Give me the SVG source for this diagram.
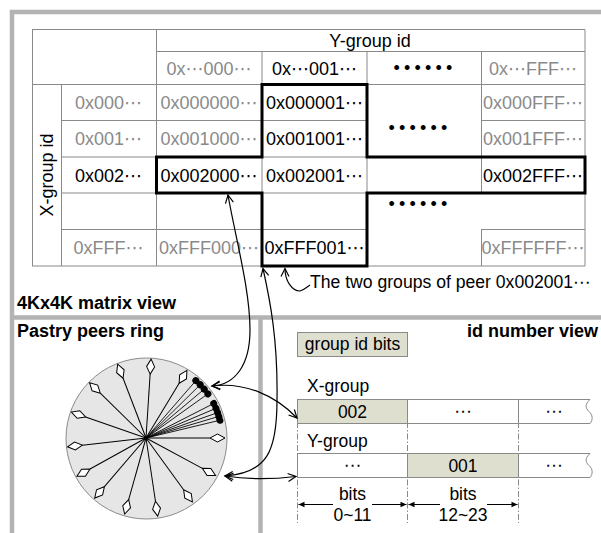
<svg xmlns="http://www.w3.org/2000/svg" xmlns:xlink="http://www.w3.org/1999/xlink" width="601" height="533" viewBox="0 0 601 533">
  <style>
    .t { font-family: "Liberation Sans", Arial, sans-serif; font-size: 18px; fill: #000; }
    .e { font-family: "DejaVu Sans", sans-serif; }
    .m { text-anchor: middle; }
    .gr { fill: #8a8a8a; }
    .bold { font-weight: bold; font-size: 18px; }
    .lg { font-size: 17.5px; }
    .dots { letter-spacing: 4.2px; }
    .grid { stroke: #8a8a8a; stroke-width: 1; fill: none; }
    .hl { stroke: #000; stroke-width: 3; fill: none; stroke-linejoin: miter; }
    .frame { stroke: #b3b3b3; stroke-width: 4.5; fill: none; }
    .conn { stroke: #000; stroke-width: 1.2; fill: none; }
    .dim { stroke: #000; stroke-width: 1; fill: none; }
    .dd { stroke: #8a8a8a; stroke-width: 1; stroke-dasharray: 6 2 1.5 2; fill: none; }
    .bar { stroke: #8a8a8a; stroke-width: 1; }
    .sel { fill: #dfdfcf; }
  </style>
  <defs>
    <marker id="open" viewBox="-10 -6 12 12" refX="0" refY="0" markerWidth="12" markerHeight="12" markerUnits="userSpaceOnUse" orient="auto-start-reverse">
      <path d="M-8,-4 L0,0 L-8,4" fill="none" stroke="#000" stroke-width="1.2"/>
    </marker>
    <marker id="solid" viewBox="-7 -4 8 8" refX="0" refY="0" markerWidth="8" markerHeight="8" markerUnits="userSpaceOnUse" orient="auto-start-reverse">
      <path d="M-6,-2.8 L0,0 L-6,2.8 Z" fill="#000"/>
    </marker>
    <g id="spoke">
      <line x1="0" y1="0" x2="64" y2="0" stroke="#000" stroke-width="1"/>
      <path d="M64,0 L71.5,-4 L79,0 L71.5,4 Z" fill="#fff" stroke="#000" stroke-width="1"/>
    </g>
    <g id="peer">
      <line x1="0" y1="0" x2="76" y2="0" stroke="#000" stroke-width="0.8"/>
      <circle cx="76" cy="0" r="3.5" fill="#000"/>
    </g>
  </defs>

  <rect width="601" height="533" fill="#fff"/>

  <!-- panel frame and dividers -->
  <g id="frame">
    <path class="frame" d="M12,533 V12 H601"/>
    <line class="frame" x1="12" y1="317.5" x2="601" y2="317.5"/>
    <line class="frame" x1="260.5" y1="317.5" x2="260.5" y2="533"/>
  </g>

  <!-- 4Kx4K matrix -->
  <g id="matrix">
    <g class="grid">
      <path d="M32,29.5 H585 M156,51.5 H585 M32,84.5 H585 M61,120.5 H367 M481,120.5 H585 M61,157 H585 M61,193 H585 M61,229.5 H367 M481,229.5 H585 M32,266 H585"/>
      <path d="M32.5,29.5 V266 M61.5,84.5 V266 M156.5,29.5 V266 M262,51.5 V266 M367,51.5 V266 M481.5,51.5 V193 M481.5,229.5 V266 M585,29.5 V266"/>
    </g>
    <path class="hl" d="M262,84.5 H367 V157 H585 V193 H367 V266 H262 V193 H156.5 V157 H262 Z"/>

    <text class="t m" x="370" y="46.5">Y-group id</text>
    <text class="t m gr" x="209" y="74.5">0x<tspan class="e">⋯</tspan>000<tspan class="e">⋯</tspan></text>
    <text class="t m" x="314.5" y="74.5">0x<tspan class="e">⋯</tspan>001<tspan class="e">⋯</tspan></text>
    <text class="t m dots" x="425" y="73.5">••••••</text>
    <text class="t m gr" x="533" y="74.5">0x<tspan class="e">⋯</tspan>FFF<tspan class="e">⋯</tspan></text>

    <text class="t m" transform="translate(52.5,175) rotate(-90)">X-group id</text>

    <text class="t m gr" x="108.5" y="108.5">0x000<tspan class="e">⋯</tspan></text>
    <text class="t m gr" x="209" y="108.5">0x000000<tspan class="e">⋯</tspan></text>
    <text class="t m" x="314.5" y="108.5">0x000001<tspan class="e">⋯</tspan></text>
    <text class="t m dots" x="420" y="133.5">••••••</text>
    <text class="t m gr" x="533" y="108.5">0x000FFF<tspan class="e">⋯</tspan></text>

    <text class="t m gr" x="108.5" y="145">0x001<tspan class="e">⋯</tspan></text>
    <text class="t m gr" x="209" y="145">0x001000<tspan class="e">⋯</tspan></text>
    <text class="t m" x="314.5" y="145">0x001001<tspan class="e">⋯</tspan></text>
    <text class="t m gr" x="533" y="145">0x001FFF<tspan class="e">⋯</tspan></text>

    <text class="t m" x="108.5" y="181.5">0x002<tspan class="e">⋯</tspan></text>
    <text class="t m" x="209" y="181.5">0x002000<tspan class="e">⋯</tspan></text>
    <text class="t m" x="314.5" y="181.5">0x002001<tspan class="e">⋯</tspan></text>
    <text class="t m" x="533" y="181.5">0x002FFF<tspan class="e">⋯</tspan></text>

    <text class="t m dots" x="420" y="209.5">••••••</text>

    <text class="t m gr" x="108.5" y="254">0xFFF<tspan class="e">⋯</tspan></text>
    <text class="t m gr" x="209" y="254">0xFFF000<tspan class="e">⋯</tspan></text>
    <text class="t m" x="314.5" y="254">0xFFF001<tspan class="e">⋯</tspan></text>
    <text class="t m gr" x="533" y="254">0xFFFFFF<tspan class="e">⋯</tspan></text>

    <text class="t" x="310" y="288" style="font-size:17.6px">The two groups of peer 0x002001<tspan class="e">⋯</tspan></text>
    <text class="t bold" x="17" y="309">4Kx4K matrix view</text>
  </g>

  <!-- Pastry peers ring -->
  <g id="ring">
    <text class="t bold" x="17" y="337">Pastry peers ring</text>
    <circle cx="146.5" cy="438.5" r="80.5" fill="#e6e6e6" stroke="#8a8a8a" stroke-width="1"/>
    <g transform="translate(146,438)">
      <use xlink:href="#spoke" transform="rotate(-86.3)"/>
      <use xlink:href="#spoke" transform="rotate(-111)"/>
      <use xlink:href="#spoke" transform="rotate(-135.6)"/>
      <use xlink:href="#spoke" transform="rotate(-160.8)"/>
      <use xlink:href="#spoke" transform="rotate(173.6)"/>
      <use xlink:href="#spoke" transform="rotate(151)"/>
      <use xlink:href="#spoke" transform="rotate(130.5)"/>
      <use xlink:href="#spoke" transform="rotate(105.7)"/>
      <use xlink:href="#spoke" transform="rotate(81.5)"/>
      <use xlink:href="#spoke" transform="rotate(54)"/>
      <use xlink:href="#spoke" transform="rotate(28.3)"/>
      <use xlink:href="#spoke" transform="rotate(0)"/>
      <use xlink:href="#spoke" transform="rotate(-58.8)"/>
      <use xlink:href="#peer" transform="rotate(-49)"/>
      <use xlink:href="#peer" transform="rotate(-44.5)"/>
      <use xlink:href="#peer" transform="rotate(-40)"/>
      <use xlink:href="#peer" transform="rotate(-35.5)"/>
      <use xlink:href="#peer" transform="rotate(-27)"/>
      <use xlink:href="#peer" transform="rotate(-23)"/>
      <use xlink:href="#peer" transform="rotate(-19.5)"/>
      <use xlink:href="#peer" transform="rotate(-16.5)"/>
      <use xlink:href="#peer" transform="rotate(-13.5)"/>
      <circle cx="0" cy="0" r="2" fill="#000"/>
    </g>
  </g>

  <!-- id number view -->
  <g id="idview">
    <text class="t bold" x="598" y="337" text-anchor="end">id number view</text>
    <g id="legend">
      <rect class="sel bar" x="297.5" y="332.5" width="110" height="24"/>
      <text class="t lg m" x="352.5" y="349.5">group id bits</text>
    </g>
    <path class="dd" d="M297.5,399 V523 M407.5,399 V523 M518.5,399 V523"/>
    <g id="xgroup">
      <text class="t lg" x="307" y="392">X-group</text>
      <rect class="sel bar" x="297.5" y="399.5" width="110" height="24"/>
      <rect class="bar" fill="#fff" x="407.5" y="399.5" width="111" height="24"/>
      <path class="bar" fill="#fff" d="M518.5,399.5 H590 C585,404 585,408 589,411.5 C593,415 593,420 590,423.5 H518.5 Z"/>
      <text class="t lg m" x="352.5" y="417.5">002</text>
      <text class="t lg m e" x="463" y="417">⋯</text>
      <text class="t lg m e" x="554" y="417">⋯</text>
    </g>
    <g id="ygroup">
      <text class="t lg" x="307" y="447">Y-group</text>
      <rect class="bar" fill="#fff" x="297.5" y="453.5" width="110" height="24"/>
      <rect class="sel bar" x="407.5" y="453.5" width="111" height="24"/>
      <path class="bar" fill="#fff" d="M518.5,453.5 H590 C585,458 585,462 589,465.5 C593,469 593,474 590,477.5 H518.5 Z"/>
      <text class="t lg m e" x="352.5" y="471">⋯</text>
      <text class="t lg m" x="463" y="471.5">001</text>
      <text class="t lg m e" x="554" y="471">⋯</text>
    </g>
    <g id="bits">
      <text class="t lg m" x="352.5" y="500">bits</text>
      <text class="t lg m" x="352.5" y="521">0~11</text>
      <text class="t lg m" x="463" y="500">bits</text>
      <text class="t lg m" x="463" y="521">12~23</text>
      <path class="dim" d="M333,504.5 H298.5" marker-end="url(#solid)"/>
      <path class="dim" d="M372,504.5 H406.5" marker-end="url(#solid)"/>
      <path class="dim" d="M440,504.5 H408.5" marker-end="url(#solid)"/>
      <path class="dim" d="M487,504.5 H517.5" marker-end="url(#solid)"/>
    </g>
  </g>

  <!-- connectors -->
  <g id="connectors">
    <path class="conn" d="M228,195 C236,240 250,290 250,330 C250,365 235,385 212,386" marker-start="url(#open)" marker-end="url(#open)"/>
    <path class="conn" d="M212,386 C245,382 275,395 297,418" marker-start="url(#open)" marker-end="url(#open)"/>
    <path class="conn" d="M263,268.5 C270,300 278,340 277,400 C277,450 268,473 225,476" marker-start="url(#open)" marker-end="url(#open)"/>
    <path class="conn" d="M225,476 C250,480 275,479 296,476.5" marker-start="url(#open)" marker-end="url(#open)"/>
    <path class="conn" d="M285,268.5 C285,281 292,291 300,291 C304,290 307,287 310,285" marker-start="url(#open)"/>
  </g>
</svg>
